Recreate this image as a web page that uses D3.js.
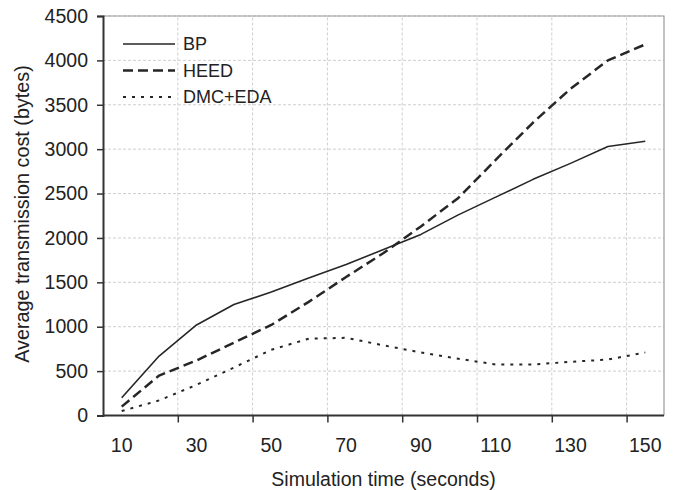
<!DOCTYPE html>
<html>
<head>
<meta charset="utf-8">
<script src="https://cdn.jsdelivr.net/npm/d3@7"></script>
<style>
  body { margin: 0; background: #fff; }
  svg { font-family: "Liberation Sans", Arial, Helvetica, sans-serif; }
</style>
</head>
<body>
<div id="chart"></div>
<script>
// Simulation time (seconds) for each sample
const times = [10, 20, 30, 40, 50, 60, 70, 80, 90, 100, 110, 120, 130, 140, 150];

// Average transmission cost (bytes) per protocol
const bp     = [200, 670, 1020, 1250, 1390, 1550, 1700, 1870, 2040, 2260, 2460, 2660, 2840, 3030, 3090];
const heed   = [100, 450, 620, 820, 1020, 1280, 1560, 1830, 2130, 2450, 2880, 3300, 3680, 4000, 4180];
const dmcEda = [50, 170, 345, 540, 740, 865, 875, 790, 710, 640, 575, 575, 605, 630, 710];

// Tick labels
const xLabels = [10, 30, 50, 70, 90, 110, 130, 150];
const xTickMarks = [25, 45, 65, 85, 105, 125, 145];
const yTicks = [0, 500, 1000, 1500, 2000, 2500, 3000, 3500, 4000, 4500];

const series = [
    { name: "BP", values: bp, dash: null, width: 1.6 },
    { name: "HEED", values: heed, dash: "10,5", width: 2.5 },
    { name: "DMC+EDA", values: dmcEda, dash: "3,6", width: 2 }
];

const W = 676, H = 490;
const margin = { top: 16, right: 12, bottom: 74.5, left: 103 };
const textColor = "#222";

const svg = d3.select("#chart")
    .append("svg")
    .attr("width", W)
    .attr("height", H);

const x = d3.scaleLinear()
    .domain([5, 155])
    .range([margin.left, W - margin.right]);

const y = d3.scaleLinear()
    .domain([0, 4500])
    .range([H - margin.bottom, margin.top]);

// Grid lines
svg.append("g")
    .selectAll("line")
    .data(yTicks.slice(1))
    .enter()
    .append("line")
    .attr("x1", x(5)).attr("x2", x(155))
    .attr("y1", d => y(d)).attr("y2", d => y(d))
    .attr("stroke", "#cfcfcf")
    .attr("stroke-dasharray", "3,2");

svg.append("g")
    .selectAll("line")
    .data(xTickMarks)
    .enter()
    .append("line")
    .attr("x1", d => x(d)).attr("x2", d => x(d))
    .attr("y1", y(0)).attr("y2", y(4500))
    .attr("stroke", "#cfcfcf")
    .attr("stroke-dasharray", "3,2");

// Plot border (top and right)
svg.append("path")
    .attr("d", `M${x(5)},${y(4500)}H${x(155)}V${y(0)}`)
    .attr("fill", "none")
    .attr("stroke", "#9a9a9a")
    .attr("stroke-width", 1.2);

// Y axis
const yAxis = svg.append("g")
    .attr("transform", `translate(${margin.left},0)`)
    .call(d3.axisLeft(y).tickValues(yTicks).tickFormat(d3.format("d")).tickSize(6).tickPadding(9));
yAxis.attr("font-size", 19.5).attr("font-family", null);
yAxis.select(".domain").attr("stroke", "#333").attr("stroke-width", 2);
yAxis.selectAll(".tick line").attr("stroke", "#333").attr("stroke-width", 1.5);
yAxis.selectAll("text").attr("fill", textColor);

// X axis: tick marks between categories, labels on categories
const xAxis = svg.append("g")
    .attr("transform", `translate(0,${y(0)})`)
    .call(d3.axisBottom(x).tickValues(xTickMarks).tickSize(7).tickFormat(""));
xAxis.select(".domain").attr("stroke", "#333").attr("stroke-width", 2)
    .attr("d", `M${x(5)},0H${x(155)}`);
xAxis.selectAll(".tick line").attr("stroke", "#333").attr("stroke-width", 1.5);

svg.append("g")
    .selectAll("text")
    .data(xLabels)
    .enter()
    .append("text")
    .attr("x", d => x(d))
    .attr("y", y(0) + 36)
    .attr("text-anchor", "middle")
    .attr("font-size", 19.5)
    .attr("fill", textColor)
    .text(d => d);

// Axis titles
svg.append("text")
    .attr("x", (x(5) + x(155)) / 2)
    .attr("y", 486)
    .attr("text-anchor", "middle")
    .attr("font-size", 19.5)
    .attr("fill", textColor)
    .text("Simulation time (seconds)");

svg.append("text")
    .attr("transform", "translate(29,214) rotate(-90)")
    .attr("text-anchor", "middle")
    .attr("font-size", 19.8)
    .attr("fill", textColor)
    .text("Average transmission cost (bytes)");

// Lines
const line = d3.line()
    .x((d, i) => x(times[i]))
    .y(d => y(d));

svg.selectAll(".series")
    .data(series)
    .enter()
    .append("path")
    .attr("class", "series")
    .attr("d", d => line(d.values))
    .attr("fill", "none")
    .attr("stroke", "#262626")
    .attr("stroke-width", d => d.width)
    .attr("stroke-dasharray", d => d.dash)
    .attr("stroke-linejoin", "round");

// Legend
const legend = svg.append("g")
    .attr("transform", "translate(123,44)");

const rows = legend.selectAll("g")
    .data(series)
    .enter()
    .append("g")
    .attr("transform", (d, i) => `translate(0,${i * 26.5})`);

rows.append("line")
    .attr("x1", 0).attr("x2", 52)
    .attr("stroke", "#262626")
    .attr("stroke-width", d => d.width)
    .attr("stroke-dasharray", d => d.dash);

rows.append("text")
    .attr("x", 60)
    .attr("dy", "0.36em")
    .attr("font-size", 18)
    .attr("fill", textColor)
    .text(d => d.name);
</script>
</body>
</html>
